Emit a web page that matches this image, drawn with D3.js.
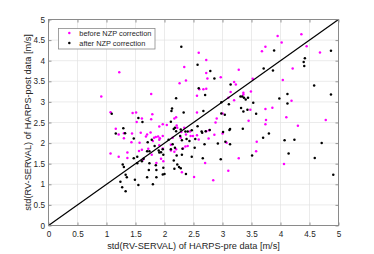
<!DOCTYPE html>
<html>
<head>
<meta charset="utf-8">
<script src="https://cdnjs.cloudflare.com/ajax/libs/d3/7.8.5/d3.min.js"></script>
<style>
body { margin: 0; background: #fff; }
</style>
</head>
<body>
<script>
// tick values (same on both axes)
const axisTicks = [0, 0.5, 1, 1.5, 2, 2.5, 3, 3.5, 4, 4.5, 5];
const legendLabels = ["before NZP correction", "after NZP correction"];
const xLabel = "std(RV-SERVAL) of HARPS-pre data [m/s]";
const yLabel = "std(RV-SERVAL) of HARPS-post data [m/s]";

// [pre, post]
const beforeNZP = [
  [0.91, 3.13], [1.22, 3.72], [1.07, 2.75], [1.16, 2.35], [1.45, 2.73], [1.51, 2.74],
  [1.61, 2.60], [1.52, 2.51], [1.77, 3.19], [1.79, 2.70], [1.77, 2.58], [1.91, 2.40],
  [1.97, 2.46], [2.34, 3.85], [2.37, 3.52], [2.26, 3.45], [2.20, 2.63], [2.21, 2.43],
  [3.95, 4.60], [4.36, 4.64], [4.02, 4.44], [3.74, 4.34], [3.68, 4.23], [4.45, 4.35],
  [4.68, 4.20], [2.59, 4.19], [2.72, 4.02], [4.21, 3.81], [3.28, 3.78], [2.72, 3.70],
  [2.74, 3.57], [2.97, 3.60], [3.52, 3.56], [4.04, 3.53], [3.20, 3.48], [3.23, 3.42],
  [2.60, 3.31], [2.67, 3.31], [2.72, 3.32], [2.56, 3.15], [3.14, 3.24], [3.36, 3.22],
  [3.36, 3.18], [3.49, 3.25], [3.10, 3.10], [4.19, 3.03], [3.74, 2.83], [3.86, 2.86],
  [3.48, 2.81], [2.56, 2.74], [3.00, 2.72], [2.90, 2.60], [2.88, 2.50], [4.10, 2.63],
  [3.75, 2.56], [3.74, 2.46], [3.45, 2.54], [4.78, 2.56], [4.30, 2.42], [1.07, 1.75],
  [1.21, 2.21], [1.30, 2.12], [1.43, 2.02], [1.21, 1.67], [1.36, 1.77], [1.36, 1.64],
  [1.59, 2.25], [1.57, 2.01], [1.61, 1.84], [1.63, 1.60], [1.76, 2.26], [1.70, 2.21],
  [1.80, 2.05], [1.72, 1.86], [1.78, 1.72], [1.82, 2.13], [1.85, 2.15], [1.86, 1.52],
  [1.91, 1.95], [1.94, 1.62], [1.97, 1.87], [1.97, 2.17], [1.98, 1.56], [2.04, 2.44],
  [2.14, 2.13], [2.11, 1.96], [2.11, 1.82], [2.17, 1.79], [2.30, 1.29], [2.29, 2.27],
  [2.32, 1.87], [2.36, 1.92], [2.44, 2.28], [2.49, 2.17], [2.56, 2.19], [2.59, 2.09],
  [2.72, 2.29], [2.77, 2.31], [2.76, 2.11], [2.86, 2.20], [3.00, 2.23], [3.07, 2.01],
  [3.59, 2.03], [3.28, 1.63], [2.70, 1.52], [3.10, 1.33], [4.06, 1.49], [2.51, 1.18],
  [2.84, 1.10], [3.58, 1.80], [2.40, 1.93], [2.37, 2.21], [2.34, 2.37], [2.45, 2.17],
  [2.28, 2.13], [2.17, 2.60], [1.30, 2.24], [1.44, 2.23], [1.68, 2.16], [1.89, 2.16],
  [1.92, 2.12], [1.91, 2.08], [2.20, 1.85], [1.56, 1.81], [3.20, 3.04], [2.22, 2.37]
];

const afterNZP = [
  [1.09, 2.71], [1.29, 2.36], [1.55, 2.61], [1.62, 2.51], [2.29, 4.34], [2.20, 3.09],
  [2.13, 2.84], [2.12, 2.78], [2.33, 2.74], [2.11, 2.52], [2.16, 2.34], [3.89, 4.25],
  [4.87, 4.24], [2.57, 3.90], [4.42, 4.06], [4.40, 3.97], [4.41, 3.87], [3.71, 3.81],
  [3.87, 3.76], [2.79, 3.75], [2.86, 3.57], [3.14, 3.42], [4.58, 3.40], [2.59, 3.33],
  [2.70, 3.17], [3.31, 3.13], [3.34, 3.13], [3.37, 3.10], [3.44, 3.10], [3.98, 3.08],
  [4.12, 3.19], [4.12, 2.96], [4.87, 3.18], [2.98, 2.99], [3.53, 2.98], [3.11, 2.94],
  [3.32, 2.85], [3.43, 2.81], [3.36, 2.77], [2.67, 2.78], [2.98, 2.72], [3.04, 2.69],
  [3.58, 2.71], [2.57, 2.41], [3.13, 2.34], [3.35, 2.35], [1.24, 1.06], [1.27, 0.93],
  [1.33, 0.83], [1.28, 1.48], [1.30, 1.42], [1.33, 1.23], [1.35, 1.17], [1.47, 1.63],
  [1.53, 1.67], [1.53, 1.51], [1.49, 1.11], [1.55, 0.98], [1.64, 1.62], [1.61, 1.56],
  [1.71, 2.02], [1.70, 1.80], [1.74, 1.80], [1.74, 1.51], [1.73, 1.35], [1.70, 1.17],
  [1.80, 1.00], [1.83, 1.93], [1.85, 1.46], [1.86, 1.35], [1.86, 1.17], [1.90, 1.82],
  [1.91, 1.77], [1.98, 1.40], [1.97, 1.24], [2.00, 1.25], [1.98, 1.72], [2.07, 2.08],
  [2.11, 1.85], [2.18, 2.37], [2.20, 2.29], [2.18, 1.89], [2.16, 1.58], [2.17, 1.38],
  [2.22, 1.48], [2.25, 1.42], [2.28, 1.39], [2.37, 1.25], [2.21, 1.70], [2.27, 2.17],
  [2.30, 1.72], [2.36, 2.28], [2.40, 2.28], [2.43, 2.05], [2.47, 2.31], [2.53, 2.10],
  [2.64, 2.28], [2.78, 2.32], [3.01, 2.27], [3.12, 2.32], [2.52, 1.89], [2.69, 1.97],
  [2.92, 1.99], [3.05, 2.03], [3.13, 1.97], [3.70, 2.13], [3.80, 2.23], [4.07, 2.07],
  [4.24, 2.08], [4.71, 2.00], [4.14, 1.75], [2.47, 1.67], [2.66, 1.63], [2.97, 1.61],
  [3.51, 1.70], [4.59, 1.64], [4.91, 1.23], [2.71, 2.29], [2.65, 2.25], [1.16, 2.23],
  [1.32, 2.24], [1.47, 2.11], [1.78, 2.08], [1.97, 1.85], [2.31, 1.86], [2.14, 1.97],
  [2.30, 2.07], [2.38, 2.10], [2.28, 2.33], [3.40, 3.06], [1.94, 1.78]
];

const fontFam = "Liberation Sans, Arial, Helvetica, sans-serif";

const canvWidth = 374, canvHeight = 254;
const svg = d3.select("body").append("svg")
    .attr("width", canvWidth)
    .attr("height", canvHeight)
    .attr("font-family", fontFam);

const margin = {top: 19.5, right: 35.5, bottom: 28.5, left: 48.5};
const width = canvWidth - margin.left - margin.right;
const height = canvHeight - margin.top - margin.bottom;

const g = svg.append("g")
    .attr("transform", "translate(" + margin.left + "," + margin.top + ")");

const xScale = d3.scaleLinear().domain([0, 5]).range([0, width]);
const yScale = d3.scaleLinear().domain([0, 5]).range([height, 0]);

// grid
g.append("g").selectAll("line")
    .data(axisTicks)
    .enter().append("line")
    .attr("x1", d => xScale(d)).attr("x2", d => xScale(d))
    .attr("y1", 0).attr("y2", height)
    .attr("stroke", "#e3e3e3").attr("stroke-width", 0.7);
g.append("g").selectAll("line")
    .data(axisTicks)
    .enter().append("line")
    .attr("y1", d => yScale(d)).attr("y2", d => yScale(d))
    .attr("x1", 0).attr("x2", width)
    .attr("stroke", "#e3e3e3").attr("stroke-width", 0.7);

// points: before first, after drawn on top
g.append("g").selectAll("circle")
    .data(beforeNZP)
    .enter().append("circle")
    .attr("cx", d => xScale(d[0]))
    .attr("cy", d => yScale(d[1]))
    .attr("r", 1.25)
    .attr("fill", "#ff00ff");

g.append("g").selectAll("circle")
    .data(afterNZP)
    .enter().append("circle")
    .attr("cx", d => xScale(d[0]))
    .attr("cy", d => yScale(d[1]))
    .attr("r", 1.25)
    .attr("fill", "#000");

// 1:1 line
g.append("line")
    .attr("x1", xScale(0)).attr("y1", yScale(0))
    .attr("x2", xScale(5)).attr("y2", yScale(5))
    .attr("stroke", "#000")
    .attr("stroke-width", 1.2);

// axes, ticks pointing inwards
const fmt = d3.format("~g");
const styleAxis = sel => {
    sel.attr("font-family", fontFam).attr("font-size", null);
    sel.select(".domain").remove();
    sel.selectAll(".tick line").attr("stroke", "#555").attr("stroke-width", 0.6);
    sel.selectAll(".tick text").attr("fill", "#262626").style("font-size", "8.2px");
};

g.append("g")
    .attr("transform", "translate(0," + height + ")")
    .call(d3.axisBottom(xScale).tickValues(axisTicks).tickFormat(fmt).tickSizeInner(-3).tickSizeOuter(0).tickPadding(5.5))
    .call(styleAxis);
g.append("g")
    .call(d3.axisLeft(yScale).tickValues(axisTicks).tickFormat(fmt).tickSizeInner(-3).tickSizeOuter(0).tickPadding(3.5))
    .call(styleAxis);
g.append("g")
    .call(d3.axisTop(xScale).tickValues(axisTicks).tickFormat("").tickSizeInner(-3).tickSizeOuter(0))
    .call(styleAxis);
g.append("g")
    .attr("transform", "translate(" + width + ",0)")
    .call(d3.axisRight(yScale).tickValues(axisTicks).tickFormat("").tickSizeInner(-3).tickSizeOuter(0))
    .call(styleAxis);

// box
g.append("rect")
    .attr("width", width).attr("height", height)
    .attr("fill", "none")
    .attr("stroke", "#8a8a8a")
    .attr("stroke-width", 1);

// axis labels
g.append("text")
    .attr("x", width / 2)
    .attr("y", height + 23.5)
    .attr("text-anchor", "middle")
    .attr("fill", "#262626")
    .style("font-size", "9.2px")
    .text(xLabel);

g.append("text")
    .attr("transform", "rotate(-90)")
    .attr("x", -height / 2)
    .attr("y", -17.5)
    .attr("text-anchor", "middle")
    .attr("fill", "#262626")
    .style("font-size", "9.2px")
    .text(yLabel);

// legend
const legend = svg.append("g").attr("transform", "translate(58.5,28.5)");
legend.append("rect")
    .attr("width", 96.5).attr("height", 20.5)
    .attr("fill", "#fff")
    .attr("stroke", "#8a8a8a")
    .attr("stroke-width", 0.8);
const legendColors = ["#ff00ff", "#000"];
legendLabels.forEach((lab, i) => {
    legend.append("circle")
        .attr("cx", 10.8).attr("cy", 4.5 + i * 10)
        .attr("r", 1.25)
        .attr("fill", legendColors[i]);
    legend.append("text")
        .attr("x", 20.8).attr("y", 4.5 + i * 10)
        .attr("dy", "0.35em")
        .attr("fill", "#262626")
        .style("font-size", "7.4px")
        .text(lab);
});
</script>
</body>
</html>
